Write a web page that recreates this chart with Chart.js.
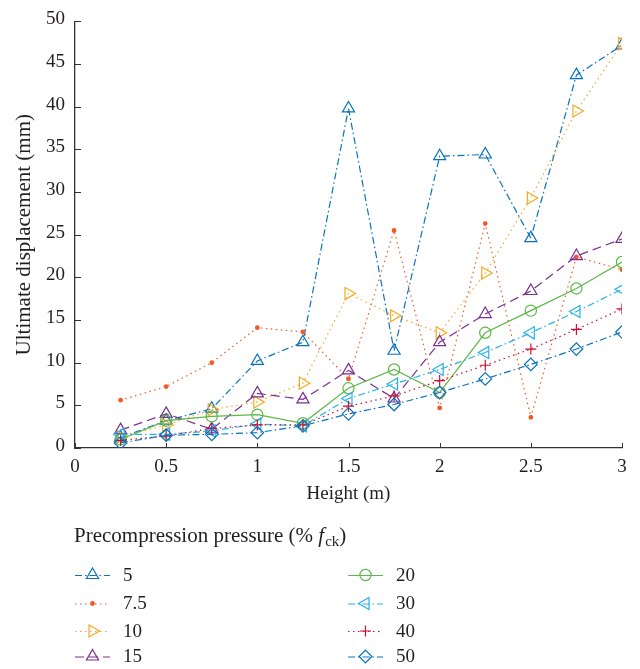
<!DOCTYPE html>
<html>
<head>
<meta charset="utf-8">
<script src="https://cdn.jsdelivr.net/npm/chart.js@4/dist/chart.umd.min.js"></script>
<style>
  html, body { margin: 0; padding: 0; background: #fff; }
  #chart { display: block; }
</style>
</head>
<body>
<canvas id="chart" width="640" height="669"></canvas>
<script>
// Wall height (m) for every test specimen
const heights = [0.25, 0.5, 0.75, 1, 1.25, 1.5, 1.75, 2, 2.25, 2.5, 2.75, 3];

// Ultimate displacement (mm) per precompression level (% fck)
const disp5   = [1.2, 3.2, 4.6, 10.2, 12.4, 39.8, 11.4, 34.2, 34.4, 24.6, 43.7, 47.2];
const disp7_5 = [5.6, 7.2, 10.0, 14.1, 13.6, 8.1, 25.5, 4.7, 26.3, 3.6, 22.4, 20.9];
const disp10  = [1.3, 2.7, 4.5, 5.4, 7.6, 18.1, 15.5, 13.5, 20.5, 29.3, 39.5, 47.4];
const disp15  = [2.1, 4.0, 2.2, 6.4, 5.7, 9.1, 5.8, 12.4, 15.7, 18.4, 22.5, 24.5];
const disp20  = [1.0, 3.2, 3.7, 3.9, 2.9, 7.0, 9.2, 6.5, 13.5, 16.1, 18.7, 21.8];
const disp30  = [1.6, 1.6, 2.0, 2.8, 2.6, 5.8, 7.5, 9.2, 11.2, 13.5, 16.0, 18.6];
const disp40  = [0.9, 1.4, 2.3, 2.7, 2.7, 4.9, 6.1, 7.9, 9.7, 11.6, 13.9, 16.3];
const disp50  = [0.6, 1.5, 1.6, 1.8, 2.6, 4.0, 5.1, 6.5, 8.1, 9.8, 11.6, 13.6];

const seriesLabels = ['5', '7.5', '10', '15', '20', '30', '40', '50'];
const seriesValues = [disp5, disp7_5, disp10, disp15, disp20, disp30, disp40, disp50];

// Axis ticks
const xTicks = [0, 0.5, 1, 1.5, 2, 2.5, 3];
const yTicks = [0, 5, 10, 15, 20, 25, 30, 35, 40, 45, 50];

// Styling for each series
const seriesColors = ['#0a72bd', '#f05a28', '#f7a823', '#7b2f90', '#5cb848', '#27b2e6', '#c8102e', '#0a72bd'];
const DASH_DOT = [7, 3, 1.5, 3];
const DOTTED = [1.5, 3.5];
const DASHED = [9, 5];
const seriesDash = [DASH_DOT, DOTTED, DOTTED, DASHED, [], DASH_DOT, DOTTED, DASH_DOT];
const seriesMarker = [
  { style: 'triangle', radius: 7, rotation: 0, filled: false },
  { style: 'circle', radius: 1.8, rotation: 0, filled: true },
  { style: 'triangle', radius: 7, rotation: 90, filled: false },
  { style: 'triangle', radius: 7, rotation: 0, filled: false },
  { style: 'circle', radius: 5.6, rotation: 0, filled: false },
  { style: 'triangle', radius: 7, rotation: -90, filled: false },
  { style: 'cross', radius: 5.5, rotation: 0, filled: false },
  { style: 'rectRot', radius: 6.3, rotation: 0, filled: false }
];

const FONT = '"Liberation Serif", "DejaVu Serif", serif';
const TEXT = '#231f20';
const AXIS = '#333333';

const datasets = seriesLabels.map((lab, i) => ({
  label: lab,
  data: heights.map((h, k) => ({ x: h, y: seriesValues[i][k] })),
  borderColor: seriesColors[i],
  borderWidth: 1.2,
  borderDash: seriesDash[i],
  pointStyle: seriesMarker[i].style,
  pointRadius: seriesMarker[i].radius,
  pointRotation: seriesMarker[i].rotation,
  pointBorderColor: seriesColors[i],
  pointBackgroundColor: seriesMarker[i].filled ? seriesColors[i] : 'rgba(0,0,0,0)',
  pointBorderWidth: 1.2,
  tension: 0,
  fill: false,
  order: seriesLabels.length - i
}));

// Inward tick marks on both axes
const innerTicks = {
  id: 'innerTicks',
  afterDraw(chart) {
    const { ctx, scales: { x, y } } = chart;
    ctx.save();
    ctx.strokeStyle = AXIS;
    ctx.lineWidth = 1;
    xTicks.forEach(v => {
      const px = Math.round(x.getPixelForValue(v)) + 0.5;
      ctx.beginPath();
      ctx.moveTo(px, y.bottom);
      ctx.lineTo(px, y.bottom - 5);
      ctx.stroke();
    });
    yTicks.forEach(v => {
      const py = Math.round(y.getPixelForValue(v)) + 0.5;
      ctx.beginPath();
      ctx.moveTo(x.left, py);
      ctx.lineTo(x.left + 6, py);
      ctx.stroke();
    });
    ctx.restore();
  }
};

// Legend block below the plot: title plus two columns of line samples
const legendBlock = {
  id: 'legendBlock',
  afterDraw(chart) {
    const ctx = chart.ctx;
    const left = chart.chartArea.left;
    ctx.save();
    ctx.fillStyle = TEXT;
    ctx.textBaseline = 'alphabetic';
    ctx.textAlign = 'left';

    // Title with italic f and subscript ck
    const titleY = 542;
    let tx = left - 1;
    ctx.font = '21px ' + FONT;
    const part1 = 'Precompression pressure (% ';
    ctx.fillText(part1, tx, titleY);
    tx += ctx.measureText(part1).width;
    ctx.font = 'italic 21px ' + FONT;
    ctx.fillText('f', tx, titleY);
    tx += ctx.measureText('f').width + 1;
    ctx.font = '15px ' + FONT;
    ctx.fillText('ck', tx, titleY + 4);
    tx += ctx.measureText('ck').width;
    ctx.font = '21px ' + FONT;
    ctx.fillText(')', tx, titleY);

    // Entries
    const rows = [575, 603.5, 631, 656.5];
    const cols = [left, 348];
    chart.data.datasets.forEach((ds, i) => {
      const col = Math.floor(i / 4);
      const row = i % 4;
      const x0 = cols[col];
      const x1 = x0 + 35;
      const cy = rows[row];
      ctx.save();
      ctx.strokeStyle = ds.borderColor;
      ctx.lineWidth = 1.2;
      ctx.setLineDash(ds.borderDash);
      ctx.beginPath();
      ctx.moveTo(x0, cy + 0.5);
      ctx.lineTo(x1, cy + 0.5);
      ctx.stroke();
      ctx.setLineDash([]);
      ctx.fillStyle = ds.pointBackgroundColor;
      ctx.strokeStyle = ds.pointBorderColor;
      ctx.lineWidth = 1.2;
      Chart.helpers.drawPoint(ctx, {
        pointStyle: ds.pointStyle,
        radius: ds.pointRadius,
        rotation: ds.pointRotation,
        borderWidth: 1.2
      }, (x0 + x1) / 2, cy);
      ctx.restore();
      ctx.font = '19px ' + FONT;
      ctx.fillStyle = TEXT;
      ctx.textBaseline = 'middle';
      ctx.fillText(ds.label, x1 + 13, cy + 1);
    });
    ctx.restore();
  }
};

new Chart(document.getElementById('chart'), {
  type: 'line',
  data: { datasets },
  options: {
    responsive: false,
    animation: false,
    devicePixelRatio: 1,
    layout: { padding: { left: 0, right: 18, top: 15, bottom: 161 } },
    plugins: { legend: { display: false }, tooltip: { enabled: false } },
    scales: {
      x: {
        type: 'linear',
        min: 0,
        max: 3,
        afterFit(scale) { scale.height = 60; },
        afterBuildTicks(scale) { scale.ticks = xTicks.map(v => ({ value: v })); },
        ticks: {
          font: { family: FONT, size: 19 },
          color: TEXT,
          padding: 8,
          callback: v => String(v)
        },
        grid: { display: true, drawOnChartArea: false, drawTicks: false },
        border: { display: true, color: AXIS, width: 1.3 },
        title: {
          display: true,
          text: 'Height (m)',
          font: { family: FONT, size: 19 },
          color: TEXT,
          padding: { top: 0, bottom: 3 }
        }
      },
      y: {
        type: 'linear',
        min: 0,
        max: 50,
        afterFit(scale) { scale.width = 75; },
        afterBuildTicks(scale) { scale.ticks = yTicks.map(v => ({ value: v })); },
        ticks: {
          font: { family: FONT, size: 19 },
          color: TEXT,
          padding: 10,
          labelOffset: -2,
          callback: v => String(v)
        },
        grid: { display: true, drawOnChartArea: false, drawTicks: false },
        border: { display: true, color: AXIS, width: 1.3 },
        title: {
          display: true,
          text: 'Ultimate displacement (mm)',
          font: { family: FONT, size: 21 },
          color: TEXT,
          padding: { top: 12, bottom: 0 }
        }
      }
    }
  },
  plugins: [innerTicks, legendBlock]
});
</script>
</body>
</html>
